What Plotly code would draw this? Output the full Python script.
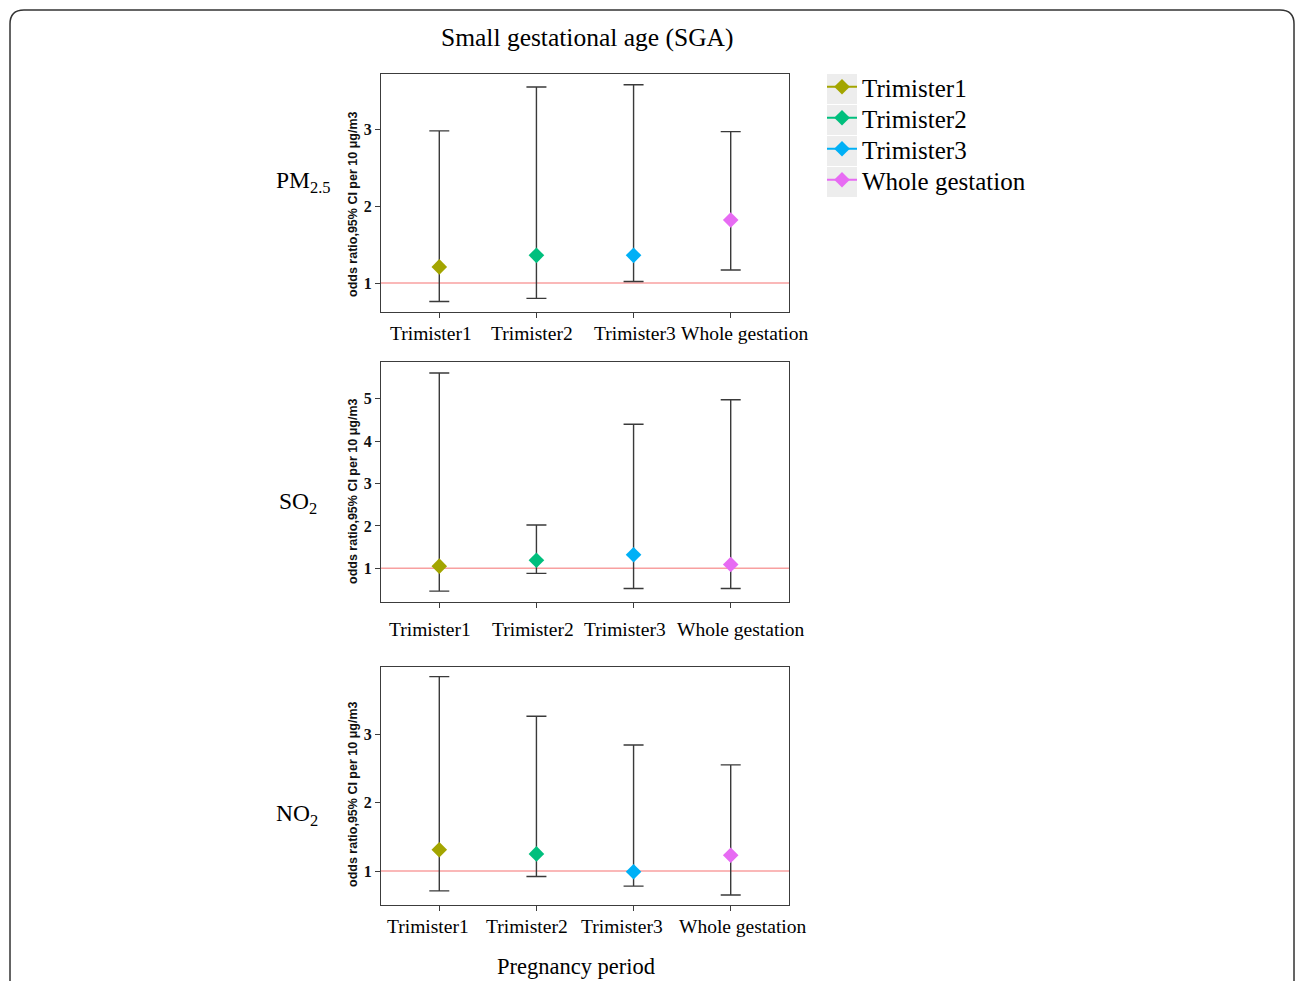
import plotly.graph_objects as go

W, H = 1296, 981

periods = ["Trimister1", "Trimister2", "Trimister3", "Whole gestation"]
colors = ["#A3A500", "#00BF7D", "#00B0F6", "#E76BF3"]

pm25_or = [1.21, 1.36, 1.36, 1.82]
pm25_lo = [0.76, 0.80, 1.02, 1.17]
pm25_hi = [2.98, 3.55, 3.58, 2.97]

so2_or = [1.05, 1.19, 1.32, 1.09]
so2_lo = [0.46, 0.88, 0.52, 0.52]
so2_hi = [5.61, 2.02, 4.40, 4.98]

no2_or = [1.31, 1.25, 0.99, 1.23]
no2_lo = [0.71, 0.92, 0.78, 0.65]
no2_hi = [3.84, 3.26, 2.84, 2.55]

pollutants = ["PM<sub>2.5</sub>", "SO<sub>2</sub>", "NO<sub>2</sub>"]
y_title = "odds ratio,95% CI per 10 μg/m3"
y_ranges = [[0.623, 3.72], [0.203, 5.87], [0.504, 3.98]]
y_ticks = [[1, 2, 3], [1, 2, 3, 4, 5], [1, 2, 3]]

SERIF = "Liberation Serif, Times New Roman, serif"
SANS = "Liberation Sans, Arial, sans-serif"

def px_y(p):
    return 1 - p / H

def px_x(p):
    return p / W

panels_px = [(74, 312), (362, 602), (667, 905)]
label_pos_px = [(303, 182), (298, 503), (297, 815)]
ytitle_center_px = [204, 491, 794]
# tick-label pixel offsets (as placed in the original figure)
tick_xshift = [[-8, -4, 1, 14], [-9, -3, -9, 10], [-11, -9, -12, 12]]
tick_gap = [22, 27, 21]
x_dom = [px_x(381), px_x(789)]
legend_names = ["legend", "legend2", "legend3", "legend4"]

fig = go.Figure()
data = [(pm25_or, pm25_lo, pm25_hi), (so2_or, so2_lo, so2_hi), (no2_or, no2_lo, no2_hi)]

for pi, (orv, lo, hi) in enumerate(data):
    xa = "x" if pi == 0 else f"x{pi+1}"
    ya = "y" if pi == 0 else f"y{pi+1}"
    for i, per in enumerate(periods):
        fig.add_trace(go.Scatter(
            x=[per], y=[orv[i]],
            mode="lines+markers",
            name=per,
            legend=legend_names[i],
            showlegend=(pi == 0),
            line=dict(color=colors[i], width=2),
            marker=dict(symbol="diamond", size=12, color=colors[i]),
            error_y=dict(type="data", symmetric=False,
                         array=[hi[i] - orv[i]], arrayminus=[orv[i] - lo[i]],
                         color="#3a3a3a", thickness=1.4, width=10),
            xaxis=xa, yaxis=ya,
        ))

layout = dict(
    width=W, height=H,
    margin=dict(l=0, r=0, t=0, b=0, autoexpand=False),
    paper_bgcolor="white", plot_bgcolor="white",
    showlegend=True,
)
for i, ln in enumerate(legend_names):
    layout[ln] = dict(x=px_x(822), y=px_y(87 + 31 * i), xanchor="left", yanchor="middle",
                      font=dict(family=SERIF, size=25, color="#000"),
                      bgcolor="rgba(0,0,0,0)", itemwidth=30)

shapes = []
annotations = []
for pi in range(3):
    top, bot = panels_px[pi]
    sfx = "" if pi == 0 else str(pi + 1)
    layout["xaxis" + sfx] = dict(
        domain=x_dom, anchor="y" + sfx, type="category",
        categoryorder="array", categoryarray=periods,
        range=[-0.6, 3.6], automargin=False, showticklabels=False,
        showline=True, mirror=True, linecolor="#3c3c3c", linewidth=1.3,
        ticks="outside", ticklen=5, tickcolor="#3c3c3c", tickwidth=1.2,
        showgrid=False, zeroline=False, fixedrange=True,
    )
    layout["yaxis" + sfx] = dict(
        domain=[px_y(bot), px_y(top)], anchor="x" + sfx,
        range=y_ranges[pi], tickvals=y_ticks[pi], automargin=False,
        showline=True, mirror=True, linecolor="#3c3c3c", linewidth=1.3,
        ticks="outside", ticklen=5, tickcolor="#3c3c3c", tickwidth=1.2,
        showgrid=False, zeroline=False,
        tickfont=dict(family=SERIF, size=16, color="#111", weight="bold"),
        fixedrange=True,
    )
    shapes.append(dict(type="line", xref=f"x{sfx} domain", yref="y" + sfx,
                       x0=0, x1=1, y0=1, y1=1,
                       line=dict(color="#F8A0A0", width=1.5), layer="below"))
    # category tick labels
    for ci, per in enumerate(periods):
        annotations.append(dict(text=per, x=per, y=0, xref="x" + sfx,
                                yref=f"y{sfx} domain", xanchor="center", yanchor="middle",
                                xshift=tick_xshift[pi][ci], yshift=-tick_gap[pi],
                                showarrow=False,
                                font=dict(family=SERIF, size=19.5, color="#000")))
    # y-axis title
    annotations.append(dict(text=y_title, x=px_x(353), y=px_y(ytitle_center_px[pi]),
                            xref="paper", yref="paper", textangle=-90,
                            xanchor="center", yanchor="middle", showarrow=False,
                            font=dict(family=SANS, size=12.5, color="#111", weight="bold")))
    lx, ly = label_pos_px[pi]
    annotations.append(dict(text=pollutants[pi], x=px_x(lx), y=px_y(ly),
                            xanchor="center", yanchor="middle",
                            xref="paper", yref="paper", showarrow=False,
                            font=dict(family=SERIF, size=23.5, color="#000")))

annotations.append(dict(text="Small gestational age (SGA)", x=px_x(587), y=px_y(38),
                        xanchor="center", yanchor="middle",
                        xref="paper", yref="paper", showarrow=False,
                        font=dict(family=SERIF, size=25.5, color="#000")))
annotations.append(dict(text="Pregnancy period", x=px_x(576), y=px_y(966),
                        xanchor="center", yanchor="middle",
                        xref="paper", yref="paper", showarrow=False,
                        font=dict(family=SERIF, size=22.5, color="#000")))

# legend key backgrounds
for i in range(4):
    shapes.append(dict(type="rect", xref="paper", yref="paper",
                       x0=px_x(827), x1=px_x(857),
                       y0=px_y(104 + 31 * i), y1=px_y(74 + 31 * i),
                       fillcolor="#EDEDED", line=dict(width=0), layer="below"))

# outer rounded border
r = 14
x0, x1, y0, y1 = 10, 1294, 10, 1000
def P(x, y):
    return f"{px_x(x):.5f},{px_y(y):.5f}"
path = (f"M {P(x0, y1)} L {P(x0, y0 + r)} Q {P(x0, y0)} {P(x0 + r, y0)} "
        f"L {P(x1 - r, y0)} Q {P(x1, y0)} {P(x1, y0 + r)} L {P(x1, y1)}")
shapes.append(dict(type="path", xref="paper", yref="paper", path=path,
                   line=dict(color="#333", width=1.5)))

layout["shapes"] = shapes
layout["annotations"] = annotations
fig.update_layout(**layout)

fig.write_html("out.html", config=dict(displayModeBar=False),
               post_script="document.body.style.margin='0';")
